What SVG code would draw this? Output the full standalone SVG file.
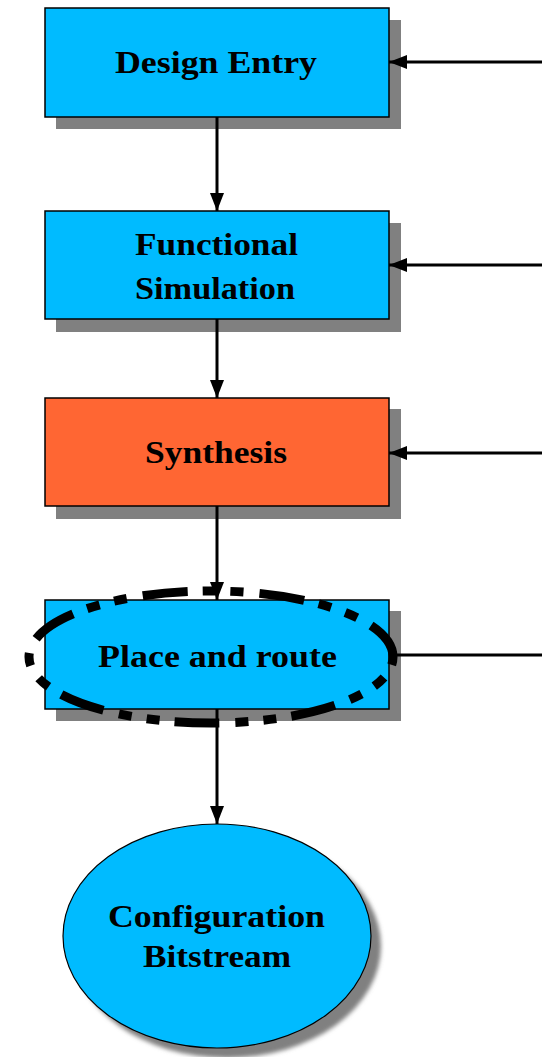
<svg xmlns="http://www.w3.org/2000/svg" width="542" height="1057" viewBox="0 0 542 1057">
  <defs>
    <marker id="arrow" viewBox="0 0 18 14" refX="18" refY="7" markerWidth="18" markerHeight="14" markerUnits="userSpaceOnUse" orient="auto">
      <path d="M0,0 L18,7 L0,14 Z" fill="#000"/>
    </marker>
    <filter id="soft" x="-10%" y="-10%" width="130%" height="130%">
      <feGaussianBlur stdDeviation="2"/>
    </filter>
  </defs>
  <style>
    .shadow { fill: #808080; }
    .box { fill: #00BBFF; stroke: #000; stroke-width: 1.5; }
    .hot { fill: #FF6633; stroke: #000; stroke-width: 1.5; }
    .label { font-family: "Liberation Serif", "Times New Roman", serif; font-weight: bold; font-size: 31px; fill: #000; }
    .edge { stroke: #000; stroke-width: 3; fill: none; }
    .ring { fill: none; stroke: #000; stroke-width: 9; stroke-dasharray: 45 15 13 15 13 16; stroke-dashoffset: 37; }
  </style>

  <rect width="542" height="1057" fill="#fff"/>

  <!-- process steps -->
  <g id="design-entry">
    <rect class="shadow" x="56" y="20" width="345" height="109"/>
    <rect class="box" x="45" y="8" width="344" height="109"/>
    <text class="label" x="115" y="73" textLength="202" lengthAdjust="spacingAndGlyphs">Design Entry</text>
  </g>

  <g id="functional-simulation">
    <rect class="shadow" x="56" y="223" width="345" height="109"/>
    <rect class="box" x="45" y="211" width="344" height="108"/>
    <text class="label" x="135" y="255" textLength="163" lengthAdjust="spacingAndGlyphs">Functional</text>
    <text class="label" x="135" y="299" textLength="160" lengthAdjust="spacingAndGlyphs">Simulation</text>
  </g>

  <g id="synthesis">
    <rect class="shadow" x="56" y="409" width="345" height="110"/>
    <rect class="hot" x="45" y="398" width="344" height="108"/>
    <text class="label" x="145" y="463" textLength="142" lengthAdjust="spacingAndGlyphs">Synthesis</text>
  </g>

  <g id="place-and-route">
    <rect class="shadow" x="56" y="611" width="345" height="110"/>
    <rect class="box" x="45" y="600" width="344" height="109"/>
    <text class="label" x="98" y="667" textLength="239" lengthAdjust="spacingAndGlyphs">Place and route</text>
  </g>

  <g id="configuration-bitstream">
    <ellipse cx="227" cy="946" rx="154" ry="112" fill="#808080" filter="url(#soft)"/>
    <ellipse cx="217" cy="936" rx="154" ry="112" fill="#00BBFF" stroke="#000" stroke-width="1.2"/>
    <text class="label" x="108" y="927" textLength="217" lengthAdjust="spacingAndGlyphs">Configuration</text>
    <text class="label" x="143" y="967" textLength="148" lengthAdjust="spacingAndGlyphs">Bitstream</text>
  </g>

  <!-- flow connectors -->
  <g id="connectors">
    <line class="edge" x1="217" y1="117" x2="217" y2="211" marker-end="url(#arrow)"/>
    <line class="edge" x1="217" y1="319" x2="217" y2="398" marker-end="url(#arrow)"/>
    <line class="edge" x1="217" y1="506" x2="217" y2="600" marker-end="url(#arrow)"/>
    <line class="edge" x1="217" y1="709" x2="217" y2="824" marker-end="url(#arrow)"/>
    <line class="edge" x1="542" y1="62" x2="389" y2="62" marker-end="url(#arrow)"/>
    <line class="edge" x1="542" y1="265" x2="389" y2="265" marker-end="url(#arrow)"/>
    <line class="edge" x1="542" y1="453" x2="389" y2="453" marker-end="url(#arrow)"/>
    <line class="edge" x1="542" y1="655" x2="393" y2="655"/>
  </g>

  <!-- highlight around the place-and-route step -->
  <g id="highlight">
    <ellipse class="ring" cx="211" cy="657" rx="182" ry="66"/>
  </g>
</svg>
